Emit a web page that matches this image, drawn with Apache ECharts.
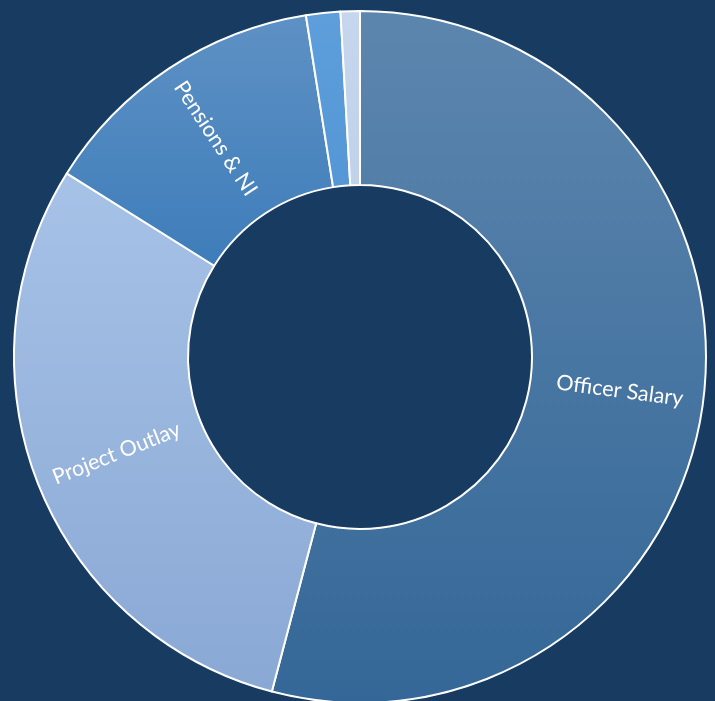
<!DOCTYPE html>
<html>
<head>
<meta charset="utf-8">
<script src="https://cdn.jsdelivr.net/npm/echarts@6/dist/echarts.min.js"></script>
<style>
  html, body { margin: 0; padding: 0; background: #173b61; }
  #chart { width: 715px; height: 701px; }
</style>
</head>
<body>
<div id="chart"></div>
<script>
const categories = ["Officer Salary", "Project Outlay", "Pensions & NI", "Other", "Misc"];
const values = [54.1, 29.8, 13.6, 1.6, 0.9];
const showLabel = [true, true, true, false, false];
// top / bottom colours of each slice's gradient
const topColors = ["#5d86ae", "#a7c2e7", "#5e91c4", "#5d9edb", "#c6d6ed"];
const bottomColors = ["#346797", "#89a8d4", "#3e7dba", "#5597d6", "#c0d1ea"];

const chart = echarts.init(document.getElementById("chart"));

chart.setOption({
  backgroundColor: "#173b61",
  animation: false,
  series: [
    {
      type: "pie",
      center: [360, 357],
      radius: [172, 346],
      startAngle: 90,
      clockwise: true,
      avoidLabelOverlap: false,
      emphasis: { disabled: true },
      itemStyle: {
        borderColor: "#ffffff",
        borderWidth: 2
      },
      label: {
        position: "inside",
        rotate: "radial",
        color: "#ffffff",
        fontFamily: "Lato",
        fontSize: 21.5,
        formatter: "{b}"
      },
      labelLine: { show: false },
      data: categories.map((name, i) => ({
        name: name,
        value: values[i],
        label: { show: showLabel[i] },
        itemStyle: {
          color: new echarts.graphic.LinearGradient(0, 0, 0, 1, [
            { offset: 0, color: topColors[i] },
            { offset: 1, color: bottomColors[i] }
          ])
        }
      }))
    }
  ]
});
</script>
</body>
</html>
